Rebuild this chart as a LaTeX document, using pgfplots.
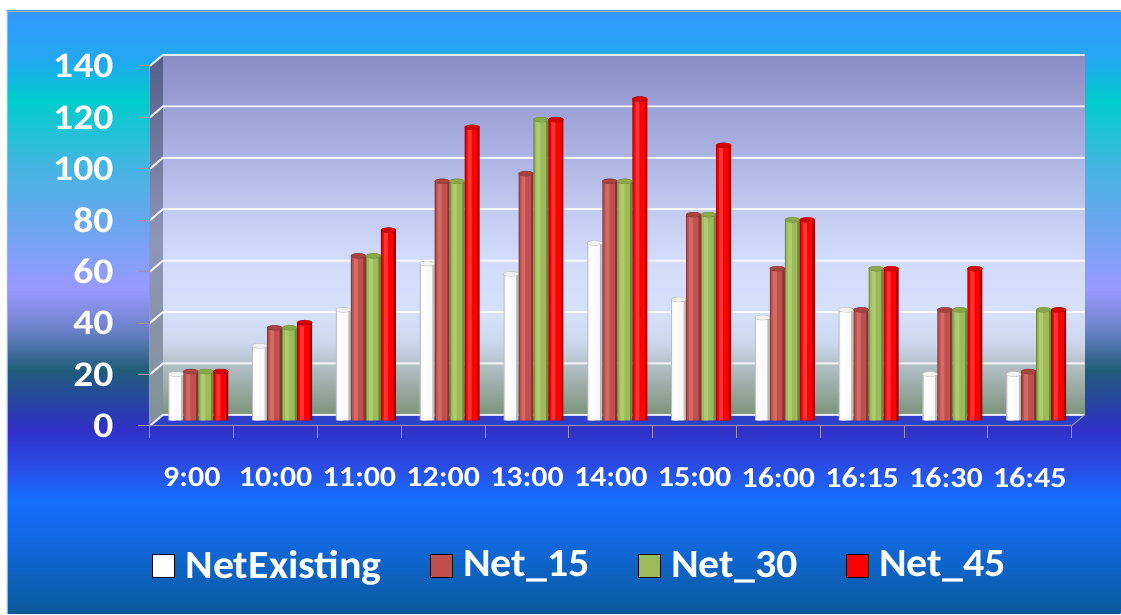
\documentclass[border=0pt]{standalone}
\usepackage{pgfplots}
\pgfplotsset{compat=1.18}
\usepackage{fontspec}
\setmainfont{Carlito}
\newfontfamily\tickfont[FakeStretch=1.1]{Carlito}
\newfontfamily\legfont[FakeStretch=1.05]{Carlito}
\usetikzlibrary{shapes.geometric}

% background colours
\definecolor{bgA}{HTML}{3399FF}
\definecolor{bgB}{HTML}{22A8F0}
\definecolor{bgC}{HTML}{00CCCC}
\definecolor{bgD}{HTML}{48B4E4}
\definecolor{bgE}{HTML}{6FA4F0}
\definecolor{bgF}{HTML}{9999FF}
\definecolor{bgG}{HTML}{6A80C8}
\definecolor{bgH}{HTML}{1F5C78}
\definecolor{bgI}{HTML}{3030C8}
\definecolor{bgJ}{HTML}{2850E8}
\definecolor{bgK}{HTML}{1570FF}
\definecolor{bgL}{HTML}{1168E0}
\definecolor{bgM}{HTML}{0A5A9A}
\definecolor{floorblue}{HTML}{2E3FC8}
\definecolor{axisgray}{RGB}{150,150,172}
% back wall
\definecolor{wA}{RGB}{124,146,124}
\definecolor{wB}{RGB}{174,188,192}
\definecolor{wC}{RGB}{204,214,236}
\definecolor{wD}{RGB}{214,224,250}
\definecolor{wE}{RGB}{210,220,250}
\definecolor{wF}{RGB}{194,202,240}
\definecolor{wG}{RGB}{174,180,228}
\definecolor{wH}{RGB}{156,160,214}
\definecolor{wI}{RGB}{138,140,198}
% side wall
\definecolor{sA}{RGB}{130,146,150}
\definecolor{sB}{RGB}{140,150,184}
\definecolor{sC}{RGB}{86,92,140}

% series colours: edge, body, highlight, cap
\definecolor{neEdge}{HTML}{BDBDBD}
\definecolor{neBody}{HTML}{FAFAFA}
\definecolor{neHi}{HTML}{FFFFFF}
\definecolor{neCap}{HTML}{F2F2F2}
\definecolor{net15}{HTML}{C0504D}
\definecolor{aEdge}{HTML}{8A3432}
\definecolor{aHi}{HTML}{D46A66}
\definecolor{aCap}{HTML}{A84440}
\definecolor{net30}{HTML}{9BBB59}
\definecolor{bEdge}{HTML}{6F8A3A}
\definecolor{bHi}{HTML}{AFCB72}
\definecolor{bCap}{HTML}{88A84A}
\definecolor{net45}{HTML}{FF0000}
\definecolor{cEdge}{HTML}{A80000}
\definecolor{cHi}{HTML}{FF3434}
\definecolor{cCap}{HTML}{D80000}

\pgfdeclareverticalshading{chartbg}{100bp}{%
  color(0bp)=(bgM); color(25bp)=(bgM); color(31.1bp)=(bgL); color(34.5bp)=(bgK);
  color(36.9bp)=(bgJ); color(40.3bp)=(bgI); color(45.2bp)=(bgH); color(48.5bp)=(bgG);
  color(51.9bp)=(bgF); color(56.8bp)=(bgE); color(61.8bp)=(bgD); color(67.6bp)=(bgC);
  color(70.9bp)=(bgB); color(75bp)=(bgA); color(100bp)=(bgA)}

\pgfdeclareverticalshading{wallbg}{100bp}{%
  color(0bp)=(wA); color(25bp)=(wA); color(31.4bp)=(wB); color(35bp)=(wC);
  color(39.3bp)=(wD); color(46.4bp)=(wE); color(53.6bp)=(wF); color(60.7bp)=(wG);
  color(67.9bp)=(wH); color(75bp)=(wI); color(100bp)=(wI)}

\pgfdeclareverticalshading{sidebg}{100bp}{%
  color(0bp)=(sA); color(25bp)=(sA); color(50bp)=(sB); color(75bp)=(sC);
  color(100bp)=(sC)}

\pgfplotstableread{
x  ne  n15  n30  n45
0  18  19   19   19
1  29  36   36   38
2  43  64   64   74
3  61  93   93   114
4  57  96   117  117
5  69  93   93   125
6  47  80   80   107
7  40  59   78   78
8  43  43   59   59
9  18  43   43   59
10 18  19   43   43
}\traffic

\pgfplotsset{
  cyl/.style={forget plot, draw=none, xshift=6.5pt, yshift=5.5pt},
  % column tops: the caps sit on the column centre, moved by the column's own offset
  cap/.style 2 args={forget plot, draw=none, fill=none, bar width=15pt, bar shift=0pt,
    xshift=#2, yshift=5.5pt,
    nodes near coords={},
    every node near coord/.append style={fill=#1}},
}

\begin{document}
\begin{tikzpicture}[x=1pt,y=1pt]
  % chart area
  \fill[white] (0,0) rectangle (1121,614);
  \shade[shading=chartbg] (7,0) rectangle (1121,603);
  \draw[gray!60, line width=0.8pt] (7,0) -- (7,603) -- (1121,603);
  % walls and floor of the 3-D plot box
  \shade[shading=wallbg] (163,199) rectangle (1085,559);
  \shade[shading=sidebg] (150,188) -- (163,199) -- (163,559) -- (150,548) -- cycle;
  \fill[floorblue] (150,188) -- (1072,188) -- (1085,199) -- (163,199) -- cycle;
  % gridlines on the back and side walls
  \foreach \v in {0,20,...,140} {
    \draw[white, line width=2pt, opacity=0.85]
      (150,{188+\v*2.5714}) -- (163,{199+\v*2.5714}) -- (1085,{199+\v*2.5714});
  }
  \draw[axisgray, line width=1pt] (1072,188) -- (1085,199);

  \begin{axis}[
    at={(150pt,188pt)}, anchor=south west,
    scale only axis, width=922pt, height=360pt,
    xmin=-0.5, xmax=10.5, ymin=0, ymax=140,
    clip=false,
    axis lines*=left,
    axis line style={-, draw=axisgray, line width=1pt},
    tick style={draw=axisgray, line width=1pt},
    tick align=outside, major tick length=12pt,
    ytick={0,20,...,140},
    xtick={-0.5,0.5,...,10.5},
    xticklabels={9:00,10:00,11:00,12:00,13:00,14:00,15:00,16:00,16:15,16:30,16:45,{}},
    /pgf/number format/assume math mode=true,
    yticklabel style={font=\tickfont\fontsize{36}{40}\selectfont\bfseries, text=white, xshift=-21pt},
    xticklabel style={font=\tickfont\fontsize{29}{34}\selectfont\bfseries, text=white,
      xshift=41.9pt, yshift=-26pt},
    ybar, bar width=15pt,
    legend columns=4,
    legend style={at={(0.4664,-0.386)}, anchor=center, draw=none, fill=none,
      font=\legfont\fontsize{40}{46}\selectfont\bfseries, text=white,
      /tikz/every odd column/.append style={column sep=9pt},
      /tikz/every even column/.append style={column sep=46pt}},
    legend image code/.code={\fill[#1] (0pt,-12pt) rectangle (22pt,11pt);},
    every node near coord/.style={ellipse, inner sep=0pt, minimum width=15pt,
      minimum height=5pt, anchor=center, line width=0.4pt},
  ]
    \addlegendimage{fill=white}
    \addlegendentry{NetExisting}
    \addlegendimage{fill=net15}
    \addlegendentry{Net\_15}
    \addlegendimage{fill=net30}
    \addlegendentry{Net\_30}
    \addlegendimage{fill=net45}
    \addlegendentry{Net\_45}

    % NetExisting
    \addplot[cyl, fill=neEdge, bar width=15pt, bar shift=-22.5pt] table[x=x, y=ne] {\traffic};
    \addplot[cyl, fill=neBody, bar width=11.5pt, bar shift=-23.2pt] table[x=x, y=ne] {\traffic};
    \addplot[cyl, fill=neHi, bar width=4pt, bar shift=-25pt] table[x=x, y=ne] {\traffic};
    \addplot[cap={neCap}{-16pt}, every node near coord/.append style={draw=neEdge}] table[x=x, y=ne] {\traffic};
    % Net_15
    \addplot[cyl, fill=aEdge, bar width=15pt, bar shift=-7.5pt] table[x=x, y=n15] {\traffic};
    \addplot[cyl, fill=net15, bar width=11.5pt, bar shift=-8.2pt] table[x=x, y=n15] {\traffic};
    \addplot[cyl, fill=aHi, bar width=4pt, bar shift=-10pt] table[x=x, y=n15] {\traffic};
    \addplot[cap={aCap}{-1pt}, every node near coord/.append style={draw=aEdge}] table[x=x, y=n15] {\traffic};
    % Net_30
    \addplot[cyl, fill=bEdge, bar width=15pt, bar shift=7.5pt] table[x=x, y=n30] {\traffic};
    \addplot[cyl, fill=net30, bar width=11.5pt, bar shift=6.8pt] table[x=x, y=n30] {\traffic};
    \addplot[cyl, fill=bHi, bar width=4pt, bar shift=5pt] table[x=x, y=n30] {\traffic};
    \addplot[cap={bCap}{14pt}, every node near coord/.append style={draw=bEdge}] table[x=x, y=n30] {\traffic};
    % Net_45
    \addplot[cyl, fill=cEdge, bar width=15pt, bar shift=22.5pt] table[x=x, y=n45] {\traffic};
    \addplot[cyl, fill=net45, bar width=11.5pt, bar shift=21.8pt] table[x=x, y=n45] {\traffic};
    \addplot[cyl, fill=cHi, bar width=4pt, bar shift=20pt] table[x=x, y=n45] {\traffic};
    \addplot[cap={cCap}{29pt}, every node near coord/.append style={draw=cEdge}] table[x=x, y=n45] {\traffic};
  \end{axis}
\end{tikzpicture}
\end{document}
